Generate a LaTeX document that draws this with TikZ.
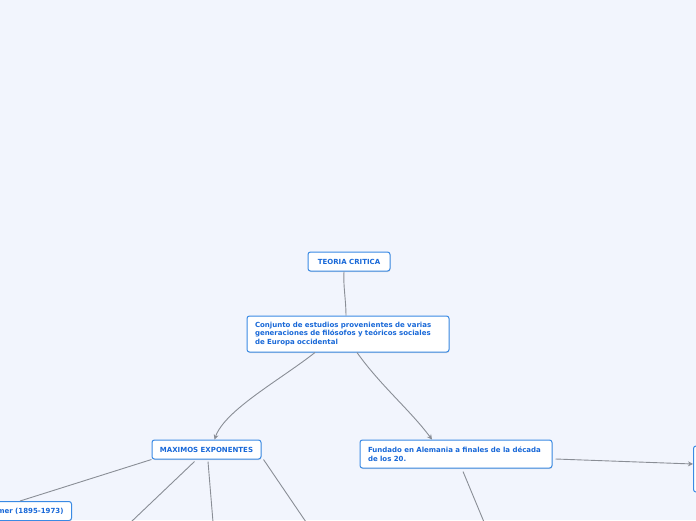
\documentclass[tikz,border=0pt]{standalone}
\usepackage{fontspec}
\setmainfont{DejaVu Sans}
\usetikzlibrary{arrows.meta,shadows}
\definecolor{bgc}{HTML}{F2F5FD}
\definecolor{boxline}{HTML}{3A8AE4}
\definecolor{txtc}{HTML}{1868D8}
\definecolor{linec}{HTML}{8A8E96}
\tikzset{
  mbox/.style={draw=boxline, line width=1pt, fill=white, rounded corners=2.5pt,
    drop shadow={shadow xshift=0.4pt, shadow yshift=-1pt, opacity=0.25},
    font=\fontsize{7}{8.6}\selectfont\bfseries, text=txtc, inner sep=0pt},
  conn/.style={draw=linec, line width=0.9pt},
  arr/.style={conn, -{Stealth[length=5pt,width=5pt]}}
}
\begin{document}
\begin{tikzpicture}[x=1pt,y=-1pt]
\useasboundingbox (0,0) rectangle (696,520);
\fill[bgc] (0,0) rectangle (696,520);
\begin{scope}
\clip (0,0) rectangle (696,520);

\node[mbox, minimum width=82pt, minimum height=19pt] (teoria) at (349,261.5) {TEORIA CRITICA};
\node[mbox, minimum width=202pt, minimum height=36pt, text width=186pt, align=left] (conj) at (348,334)
  {Conjunto de estudios provenientes de varias\\generaciones de filósofos y teóricos sociales\\de Europa occidental};
\node[mbox, minimum width=109pt, minimum height=19pt] (max) at (206.5,449.5) {MAXIMOS EXPONENTES};
\node[mbox, minimum width=192pt, minimum height=28pt, text width=176pt, align=left] (fund) at (456,454)
  {Fundado en Alemania a finales de la década\\de los 20.};
\filldraw[fill=white, draw=boxline, line width=1pt, rounded corners=2.5pt] (693.5,446) rectangle (730,492);
\coordinate (rboxin) at (693,464);
\node[mbox, minimum height=19pt, inner xsep=8pt, anchor=north east] (hork) at (72,501) {Max Horkheimer (1895-1973)};

\coordinate (e1) at (131,522);
\coordinate (e2) at (213,522);
\coordinate (e3) at (306,522);
\coordinate (e4) at (484,522);

% connectors
\draw[conn] ([xshift=-5pt]teoria.south) .. controls (343,285) and (346,300) .. ([xshift=-2pt]conj.north);
\draw[arr] ([xshift=-33pt]conj.south) .. controls (280,380) and (225,410) .. ([xshift=8pt]max.north);
\draw[arr] ([xshift=9pt]conj.south) .. controls (380,385) and (410,410) .. ([xshift=-24pt]fund.north);
\draw[arr] ([xshift=3pt,yshift=-5pt]fund.east) -- (rboxin);
\draw[conn] ([xshift=7pt,yshift=-3pt]fund.south) -- (e4);
\draw[conn] (max.south west) -- ([xshift=-52pt]hork.north east);
\draw[conn] ([xshift=-12pt,yshift=-2pt]max.south) -- (e1);
\draw[conn] ([xshift=1.5pt,yshift=-2pt]max.south) -- (e2);
\draw[conn] ([xshift=2pt]max.south east) -- (e3);
\end{scope}
\end{tikzpicture}
\end{document}
